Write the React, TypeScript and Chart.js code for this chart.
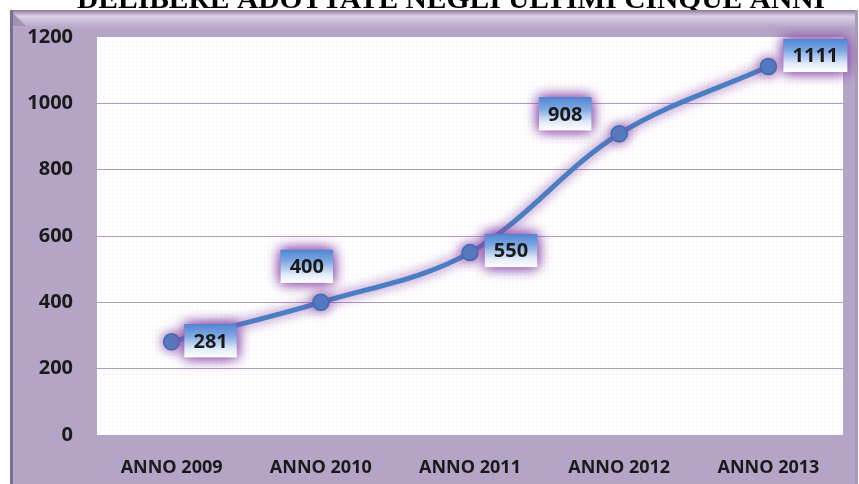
import React, { useEffect, useRef } from "react";
import { Chart, registerables } from "chart.js";

Chart.register(...registerables);

const TITLE = "DELIBERE ADOTTATE NEGLI ULTIMI CINQUE ANNI";
const categories = ["ANNO 2009", "ANNO 2010", "ANNO 2011", "ANNO 2012", "ANNO 2013"];
const delibere = [281, 400, 550, 908, 1111];
const yTicks = [0, 200, 400, 600, 800, 1000, 1200];
// label box offsets (px) relative to each point
const labelOffsets = [
  [39, -1],
  [-14, -36],
  [41, -2],
  [-54, -20],
  [47, -11],
];

const FRAME = "#b4a4c6";
const TEXT = "#1a1a1a";

const framePlugin = {
  id: "frame",
  beforeDraw(chart: any) {
    const { ctx, width, height } = chart;
    const { left, top, right, bottom } = chart.chartArea;
    ctx.save();
    ctx.fillStyle = "#ffffff";
    ctx.fillRect(0, 0, width, height);

    // clipped title
    ctx.font = 'bold 28px "Liberation Serif", "Times New Roman", serif';
    ctx.textAlign = "center";
    ctx.textBaseline = "alphabetic";
    ctx.fillStyle = "#000";
    const tw = ctx.measureText(TITLE).width;
    ctx.save();
    ctx.translate(451, 8);
    ctx.scale(748 / tw, 1);
    ctx.fillText(TITLE, 0, 0);
    ctx.restore();

    // frame
    ctx.fillStyle = FRAME;
    ctx.fillRect(10, 10, width - 11, height - 10);
    const g = ctx.createLinearGradient(0, 10, 0, 28);
    g.addColorStop(0, "#8a7b9a");
    g.addColorStop(0.12, "#a797b9");
    g.addColorStop(0.35, "#ddd3e7");
    g.addColorStop(0.6, "#cbbfd9");
    g.addColorStop(1, FRAME);
    ctx.fillStyle = g;
    ctx.fillRect(10, 10, width - 11, 18);
    ctx.fillStyle = "#a191b3";
    ctx.beginPath();
    ctx.moveTo(10, 10);
    ctx.lineTo(26, 26);
    ctx.lineTo(10, 26);
    ctx.closePath();
    ctx.fill();
    ctx.fillStyle = "#7d6e8e";
    ctx.fillRect(10, 10, 3, height - 10);
    ctx.fillStyle = "#a99abb";
    ctx.fillRect(width - 4, 10, 3, height - 10);

    // plot area
    ctx.fillStyle = "#ffffff";
    ctx.fillRect(left, top, right - left, bottom - top);
    ctx.fillStyle = "rgba(215,195,225,0.35)";
    for (let y = top + 1; y < bottom; y += 4) {
      const off = ((y - top) / 4) % 2 === 0 ? 0 : 2;
      for (let x = left + 1 + off; x < right; x += 4) {
        ctx.fillRect(x, y, 1, 1);
      }
    }
    ctx.restore();
  },
};

const glowLabelPlugin = {
  id: "glowLabels",
  beforeDatasetsDraw(chart: any) {
    const ctx = chart.ctx;
    ctx.save();
    ctx.shadowColor = "rgba(135,70,165,0.95)";
    ctx.shadowBlur = 12;
  },
  afterDatasetsDraw(chart: any) {
    const ctx = chart.ctx;
    ctx.restore();
    const meta = chart.getDatasetMeta(0);
    const values = chart.data.datasets[0].data as number[];
    meta.data.forEach((pt: any, i: number) => {
      const [dx, dy] = labelOffsets[i];
      const cx = pt.x + dx;
      const cy = pt.y + dy;
      const text = String(values[i]);
      ctx.save();
      ctx.font = 'bold 20px "Open Sans", sans-serif';
      const w = ctx.measureText(text).width + 18;
      const h = 33;
      const x0 = cx - w / 2;
      const y0 = cy - h / 2;
      const g = ctx.createLinearGradient(0, y0, 0, y0 + h);
      g.addColorStop(0, "#4f86d3");
      g.addColorStop(0.35, "#7ea8e3");
      g.addColorStop(0.75, "#e2ebf8");
      g.addColorStop(1, "#ffffff");
      ctx.shadowColor = "rgba(140,75,170,0.95)";
      ctx.shadowBlur = 14;
      ctx.fillStyle = g;
      ctx.fillRect(x0, y0, w, h);
      ctx.fillRect(x0, y0, w, h);
      ctx.shadowBlur = 0;
      ctx.shadowColor = "transparent";
      ctx.fillStyle = TEXT;
      ctx.textAlign = "center";
      ctx.textBaseline = "middle";
      ctx.fillText(text, cx, cy + 1);
      ctx.restore();
    });
  },
};

export default function App() {
  const ref = useRef<HTMLCanvasElement | null>(null);

  useEffect(() => {
    document.body.style.margin = "0";
    let chart: Chart | null = null;
    let cancelled = false;
    const make = () => {
      if (cancelled || !ref.current) return;
      chart = new Chart(ref.current, {
        type: "line",
        data: {
          labels: categories,
          datasets: [
            {
              data: delibere,
              borderColor: "#4a7dc2",
              borderWidth: 5,
              tension: 0.35,
              pointRadius: 8,
              pointBackgroundColor: "#4f80c4",
              pointBorderColor: "#3d6dad",
              pointBorderWidth: 1.5,
              fill: false,
            },
          ],
        },
        options: {
          animation: false,
          responsive: false,
          devicePixelRatio: 1,
          layout: { padding: { top: 37, right: 16, left: 0, bottom: 0 } },
          plugins: {
            legend: { display: false },
            tooltip: { enabled: false },
            title: { display: false },
          },
          scales: {
            x: {
              type: "category",
              offset: true,
              grid: { display: false },
              border: { display: false },
              ticks: {
                color: TEXT,
                font: { family: '"Open Sans", sans-serif', size: 18, weight: "bold" },
                padding: 14,
                maxRotation: 0,
                autoSkip: false,
              },
              afterFit(s: any) {
                s.height = 49;
              },
            },
            y: {
              min: 0,
              max: 1200,
              afterBuildTicks(s: any) {
                s.ticks = yTicks.map((v) => ({ value: v }));
              },
              ticks: {
                color: TEXT,
                font: { family: '"Open Sans", sans-serif', size: 20, weight: "bold" },
                padding: 24,
                callback: (v: any) => String(v),
              },
              grid: {
                drawTicks: false,
                lineWidth: 1,
                color: (c: any) =>
                  c.tick && (c.tick.value === 0 || c.tick.value === 1200) ? "rgba(0,0,0,0)" : "#ab9cbf",
              },
              border: { display: false },
              afterFit(s: any) {
                s.width = 97;
              },
            },
          },
        },
        plugins: [framePlugin, glowLabelPlugin],
      });
    };
    const fonts: any = (document as any).fonts;
    if (fonts && fonts.load) {
      Promise.all([
        fonts.load('bold 20px "Open Sans"'),
        fonts.load('bold 28px "Liberation Serif"'),
      ])
        .catch(() => {})
        .then(make);
    } else {
      make();
    }
    return () => {
      cancelled = true;
      if (chart) chart.destroy();
    };
  }, []);

  return (
    <div style={{ width: 859, height: 484 }}>
      <canvas ref={ref} width={859} height={484} style={{ display: "block" }} />
    </div>
  );
}
